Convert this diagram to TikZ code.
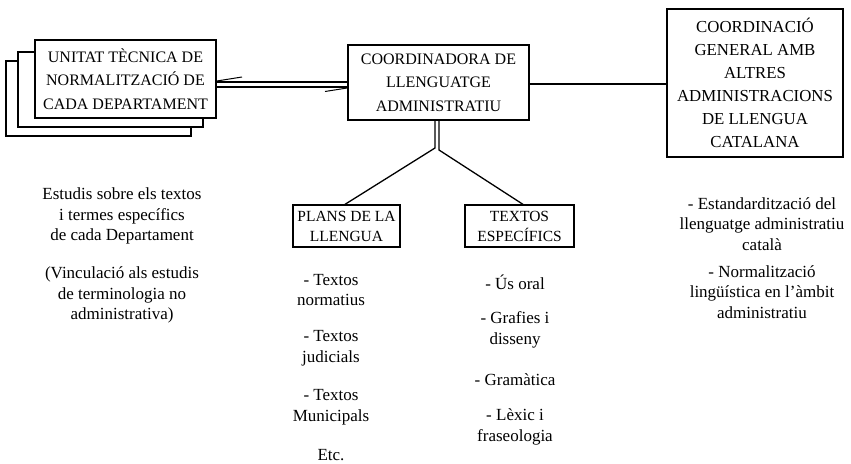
\documentclass[tikz,border=0pt]{standalone}
\usepackage{fontspec}
\setmainfont{Liberation Serif}
\begin{document}
\begin{tikzpicture}[x=1pt,y=-1pt,
  box/.style={draw=black,line width=1.6pt,fill=white,inner sep=0pt,align=center},
  boxtext/.style={font=\fontsize{16}{23.5}\selectfont},
  smallbox/.style={box,line width=1.3pt,font=\fontsize{15.5}{20}\selectfont},
  body/.style={align=center,inner sep=0pt,font=\fontsize{17}{20.5}\selectfont},
  conn/.style={line width=1.3pt}]
\useasboundingbox (0,0) rectangle (851,463);
% stacked boxes
\node[box,minimum width=185pt,minimum height=75pt] (back2) at (98.5,98.5) {};
\node[box,minimum width=185pt,minimum height=75pt] (back1) at (110.5,89.5) {};
\node[box,boxtext,minimum width=181pt,minimum height=78pt] (unitat) at (125.5,79)
  {UNITAT TÈCNICA DE\\NORMALITZACIÓ DE\\CADA DEPARTAMENT};
\node[box,boxtext,minimum width=181pt,minimum height=75pt] (coord) at (438.5,82.5)
  {COORDINADORA DE\\LLENGUATGE\\ADMINISTRATIU};
\node[box,font=\fontsize{16.8}{23}\selectfont,minimum width=176pt,minimum height=148pt] (general) at (755,83)
  {COORDINACIÓ\\GENERAL AMB\\ALTRES\\ADMINISTRACIONS\\DE LLENGUA\\CATALANA};
\node[smallbox,minimum width=107pt,minimum height=42pt] (plans) at (346.5,226)
  {PLANS DE LA\\LLENGUA};
\node[smallbox,minimum width=109pt,minimum height=42pt] (textos) at (519.5,226)
  {TEXTOS\\ESPECÍFICS};
% connectors
\coordinate (u1) at (0,82);
\coordinate (u2) at (0,87);
\draw[conn] (unitat.east |- u1) -- (coord.west |- u1);
\draw[conn] (unitat.east |- u2) -- (coord.west |- u2);
\coordinate (tk1) at (242,77);
\coordinate (tk2) at (325,91.5);
\draw[line width=1pt] (unitat.east |- 0,81) -- (tk1);
\draw[line width=1pt] (coord.west |- 0,88) -- (tk2);
\coordinate (g1) at (0,84);
\draw[conn] (coord.east |- g1) -- (general.west |- g1);
\coordinate (bl) at (435,148);
\coordinate (br) at (439,150);
\draw[conn] (coord.south -| bl) -- (bl) -- ([xshift=-1.5pt]plans.north);
\draw[conn] (coord.south -| br) -- (br) -- ([xshift=3.5pt]textos.north);
% texts
\node[body] (l1) at (122,216) {Estudis sobre els textos\\i termes específics\\de cada Departament};
\node[body] (l2) at (122,295) {(Vinculació als estudis\\de terminologia no\\administrativa)};
\node[body] (p1) at (331,290) {- Textos\\normatius};
\node[body] (p2) at (331,348) {- Textos\\judicials};
\node[body] (p3) at (331,407) {- Textos\\Municipals};
\node[body] (p4) at (331,455) {Etc.};
\node[body] (t1) at (515,282) {- Ús oral};
\node[body] (t2) at (515,330) {- Grafies i\\disseny};
\node[body] (t3) at (515,380) {- Gramàtica};
\node[body] (t4) at (515,427) {- Lèxic i\\fraseologia};
\node[body] (r1) at (762,224) {- Estandardització del\\llenguatge administratiu\\català};
\node[body] (r2) at (762,292) {- Normalització\\lingüística en l'àmbit\\administratiu};
\end{tikzpicture}
\end{document}
